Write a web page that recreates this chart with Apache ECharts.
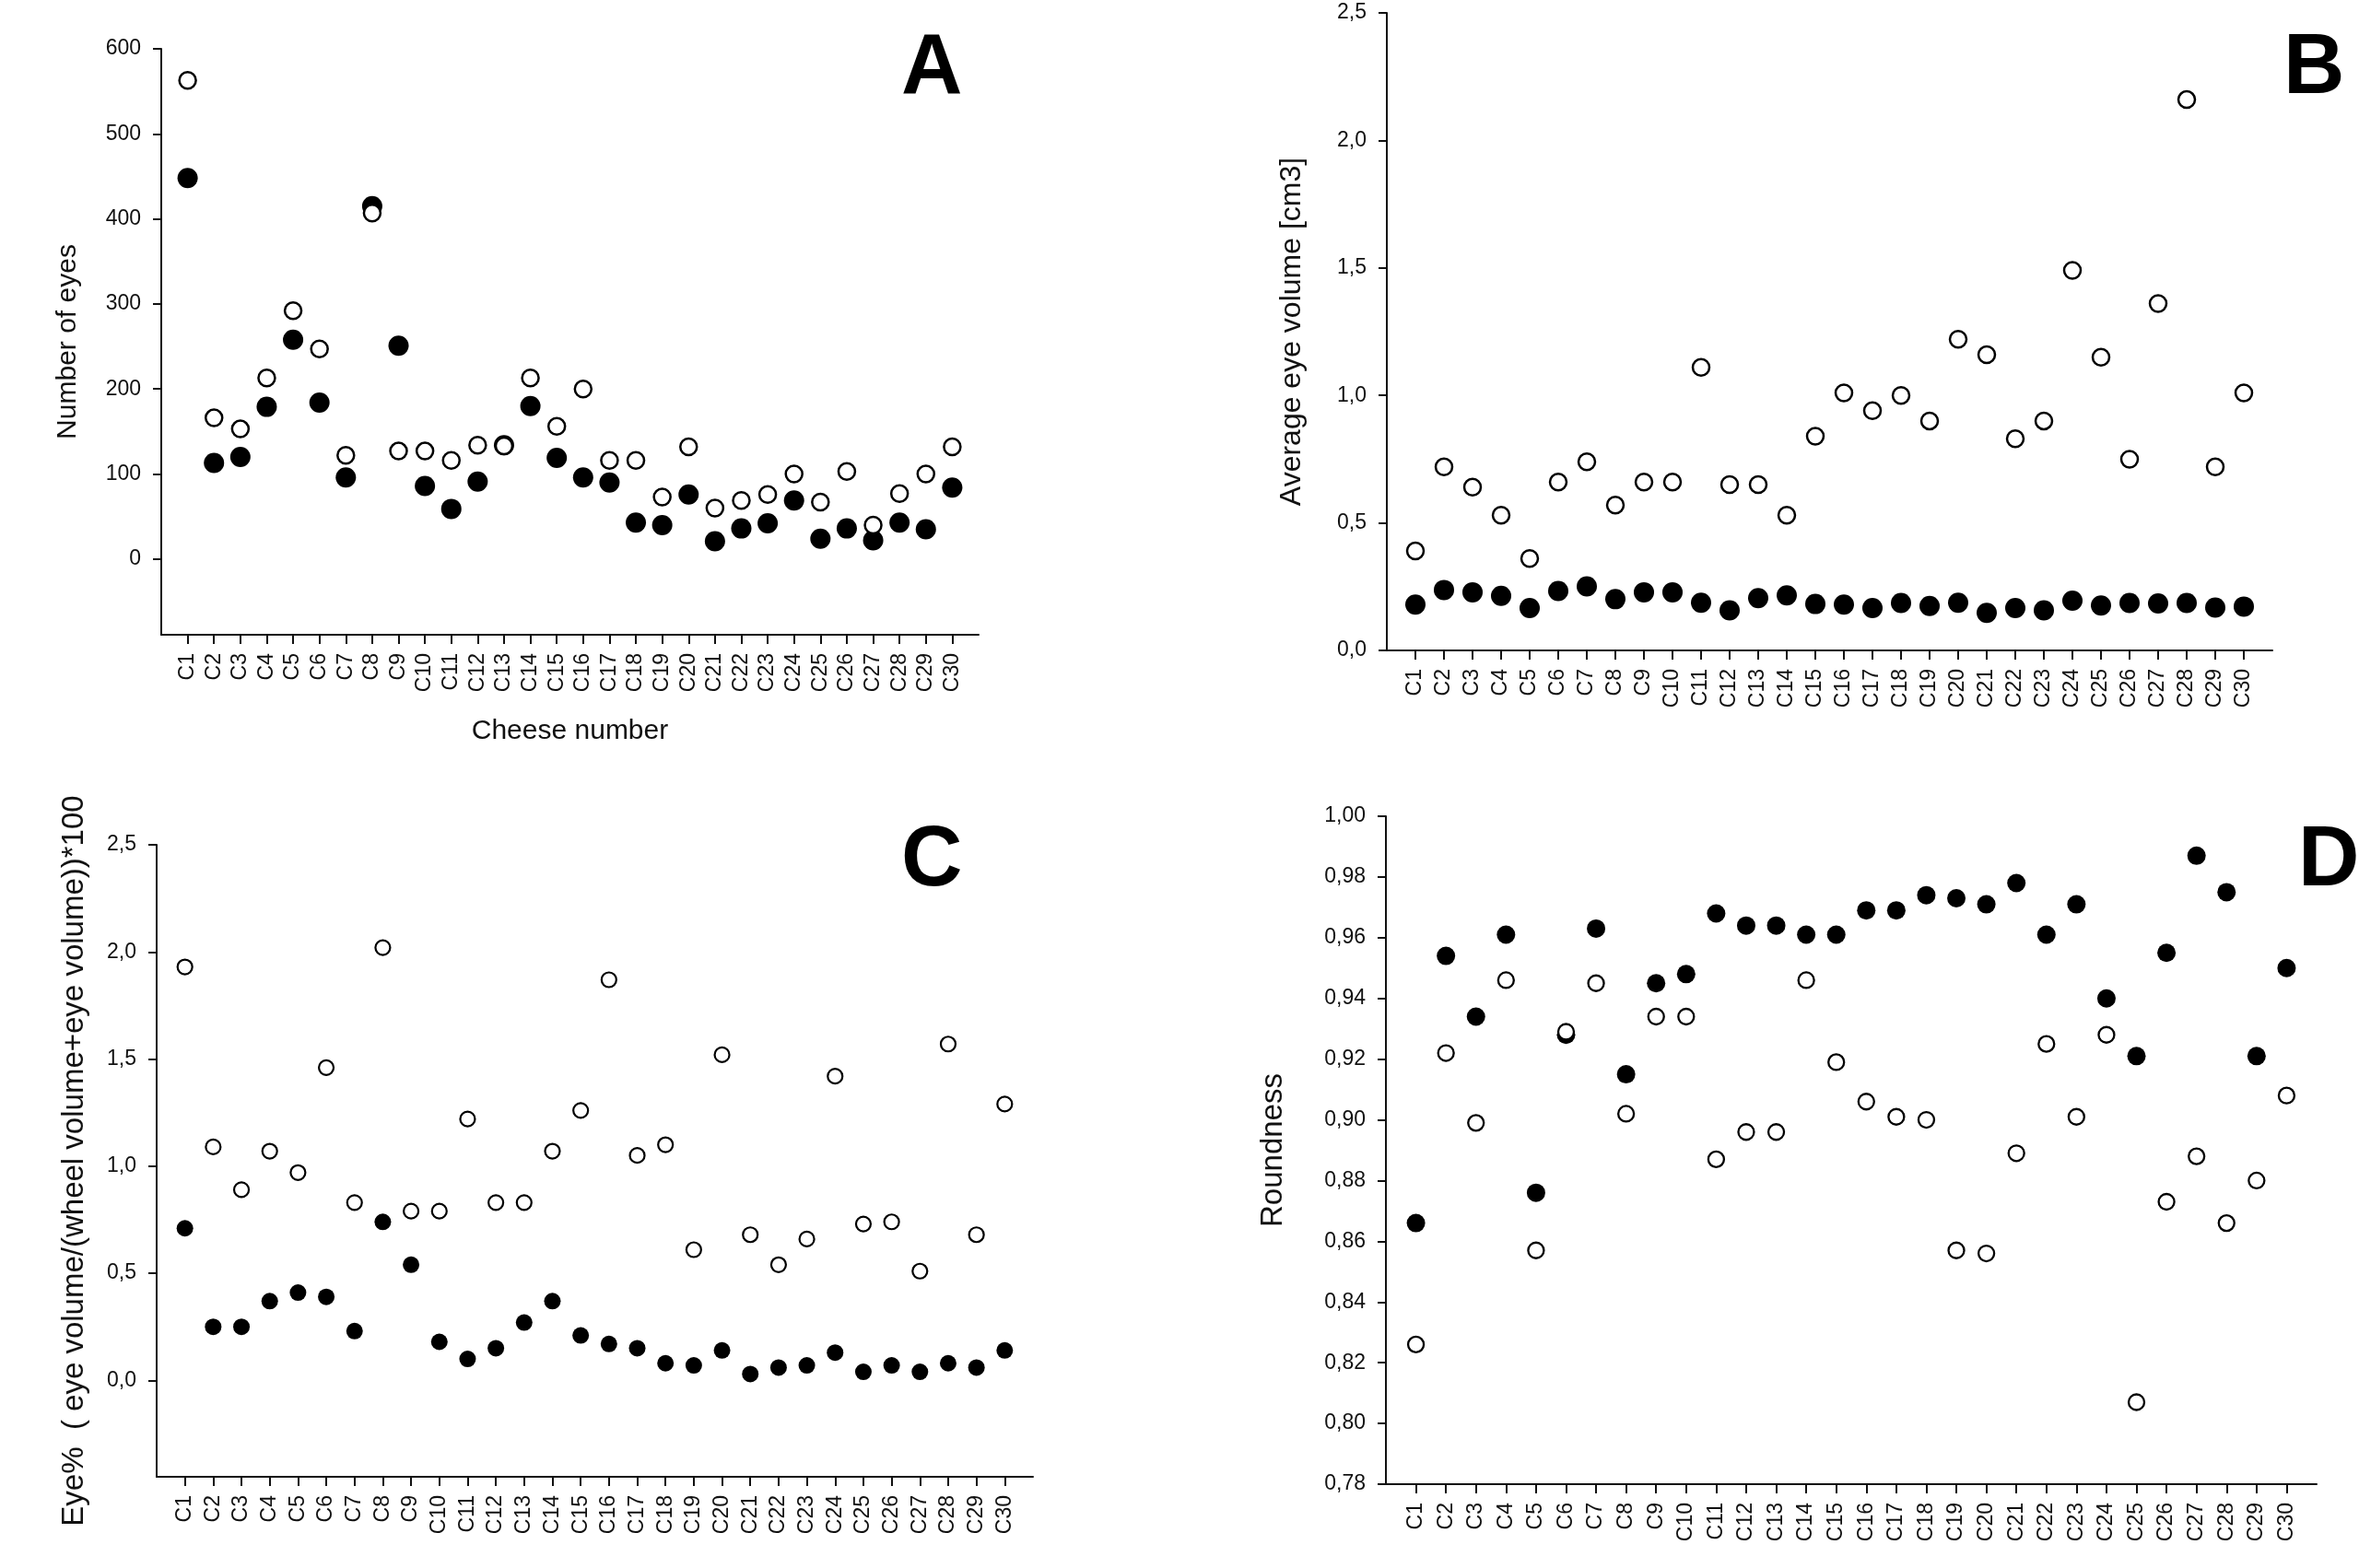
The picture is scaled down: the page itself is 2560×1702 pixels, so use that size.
<!DOCTYPE html>
<html><head><meta charset="utf-8">
<script src="https://cdn.jsdelivr.net/npm/echarts@6/dist/echarts.min.js"></script>
<style>html,body{margin:0;padding:0;background:#fff}#c{width:2560px;height:1702px}</style>
</head><body><div id="c"></div>
<script>
const cheeses = ['C1','C2','C3','C4','C5','C6','C7','C8','C9','C10','C11','C12','C13','C14','C15','C16','C17','C18','C19','C20','C21','C22','C23','C24','C25','C26','C27','C28','C29','C30'];

const aFilled = [448,113,120,179,258,184,96,415,251,86,59,91,134,180,119,96,90,43,40,76,21,36,42,69,24,36,22,43,35,84];
const aOpen   = [563,166,153,213,292,247,122,407,127,127,116,134,133,213,156,200,116,116,73,132,60,69,76,100,67,103,40,77,100,132];

const bFilled = [0.180,0.237,0.228,0.214,0.166,0.233,0.251,0.201,0.228,0.228,0.187,0.157,0.205,0.216,0.182,0.180,0.166,0.186,0.174,0.187,0.147,0.166,0.157,0.195,0.176,0.186,0.184,0.186,0.168,0.172];
const bOpen   = [0.39,0.72,0.64,0.53,0.36,0.66,0.74,0.57,0.66,0.66,1.11,0.65,0.65,0.53,0.84,1.01,0.94,1.00,0.90,1.22,1.16,0.83,0.90,1.49,1.15,0.75,1.36,2.16,0.72,1.01];

const cFilled = [0.71,0.25,0.25,0.37,0.41,0.39,0.23,0.74,0.54,0.18,0.10,0.15,0.27,0.37,0.21,0.17,0.15,0.08,0.07,0.14,0.03,0.06,0.07,0.13,0.04,0.07,0.04,0.08,0.06,0.14];
const cOpen   = [1.93,1.09,0.89,1.07,0.97,1.46,0.83,2.02,0.79,0.79,1.22,0.83,0.83,1.07,1.26,1.87,1.05,1.10,0.61,1.52,0.68,0.54,0.66,1.42,0.73,0.74,0.51,1.57,0.68,1.29];

const dFilled = [0.866,0.954,0.934,0.961,0.876,0.928,0.963,0.915,0.945,0.948,0.968,0.964,0.964,0.961,0.961,0.969,0.969,0.974,0.973,0.971,0.978,0.961,0.971,0.940,0.921,0.955,0.987,0.975,0.921,0.950];
const dOpen   = [0.826,0.922,0.899,0.946,0.857,0.929,0.945,0.902,0.934,0.934,0.887,0.896,0.896,0.946,0.919,0.906,0.901,0.900,0.857,0.856,0.889,0.925,0.901,0.928,0.807,0.873,0.888,0.866,0.880,0.908];

const aTicks = [0,100,200,300,400,500,600];
const bTicks = [0,0.5,1.0,1.5,2.0,2.5];
const cTicks = [0,0.5,1.0,1.5,2.0,2.5];
const dTicks = [0.78,0.80,0.82,0.84,0.86,0.88,0.90,0.92,0.94,0.96,0.98,1.00];
const panelLetters = ['A','B','C','D'];

const FONT = 'Liberation Sans, Arial, sans-serif';
const catPositions = cheeses.map((c,i)=>i+1);

function xAxisFor(gridIndex, name, nameGap){
  return {
    type:'value', gridIndex, min:0, max:31,
    name: name || '', nameLocation:'middle', nameGap: nameGap || 0,
    nameTextStyle:{fontFamily:FONT, fontSize:30, color:'#111'},
    axisLine:{show:true, onZero:false, lineStyle:{color:'#111', width:2}},
    axisTick:{show:true, customValues:catPositions, length:10, inside:false, lineStyle:{color:'#111', width:2}},
    axisLabel:{show:true, customValues:catPositions, rotate:90, margin:20, fontFamily:FONT, fontSize:23, color:'#111',
      formatter:v=>cheeses[Math.round(v)-1] || ''},
    splitLine:{show:false}
  };
}
function yAxisFor(gridIndex, min, max, ticks, fmt, name, nameGap, nameSize){
  return {
    type:'value', gridIndex, min, max,
    name, nameLocation:'middle', nameGap,
    nameTextStyle:{fontFamily:FONT, fontSize:nameSize, color:'#111'},
    axisLine:{show:true, onZero:false, lineStyle:{color:'#111', width:2}},
    axisTick:{show:true, customValues:ticks, length:9, inside:false, lineStyle:{color:'#111', width:2}},
    axisLabel:{show:true, customValues:ticks, margin:22, fontFamily:FONT, fontSize:23, color:'#111', formatter:fmt},
    splitLine:{show:false}
  };
}
function pts(arr){ return arr.map((v,i)=>[catPositions[i], v]); }
function filledSeries(idx, arr, size){
  return {type:'scatter', xAxisIndex:idx, yAxisIndex:idx, data:pts(arr), symbol:'circle', symbolSize:size,
    itemStyle:{color:'#000', opacity:1}, z:2, silent:true};
}
function openSeries(idx, arr, size, bw){
  return {type:'scatter', xAxisIndex:idx, yAxisIndex:idx, data:pts(arr), symbol:'circle', symbolSize:size,
    itemStyle:{color:'#fff', borderColor:'#000', borderWidth:bw, opacity:1}, z:3, silent:true};
}

const chart = echarts.init(document.getElementById('c'), null, {renderer:'canvas'});
chart.setOption({
  animation:false,
  backgroundColor:'#fff',
  grid:[
    {left:175, top:53, width:887, height:636},
    {left:1505, top:14, width:961, height:692},
    {left:170, top:917, width:951, height:686},
    {left:1504, top:886, width:1010, height:725}
  ],
  xAxis:[
    xAxisFor(0, 'Cheese number', 90),
    xAxisFor(1), xAxisFor(2), xAxisFor(3)
  ],
  yAxis:[
    yAxisFor(0, -89, 600, aTicks, v=>String(v), 'Number of eyes', 86, 30),
    yAxisFor(1, 0, 2.5, bTicks, v=>v.toFixed(1).replace('.',','), 'Average eye volume [cm3]', 87, 32),
    yAxisFor(2, -0.45, 2.5, cTicks, v=>v.toFixed(1).replace('.',','), 'Eye%  ( eye volume/(wheel volume+eye volume))*100', 73, 33),
    yAxisFor(3, 0.78, 1.0, dTicks, v=>v.toFixed(2).replace('.',','), 'Roundness', 106, 33)
  ],
  series:[
    filledSeries(0, aFilled, 22), openSeries(0, aOpen, 18, 2.5),
    filledSeries(1, bFilled, 22), openSeries(1, bOpen, 18, 2.5),
    filledSeries(2, cFilled, 18), openSeries(2, cOpen, 16, 2.2),
    filledSeries(3, dFilled, 20), openSeries(3, dOpen, 17, 2.3)
  ],
  graphic:[
    {type:'text', left:978, top:30, style:{text:panelLetters[0], font:'bold 92px '+FONT, fill:'#000'}},
    {type:'text', left:2478, top:30, style:{text:panelLetters[1], font:'bold 92px '+FONT, fill:'#000'}},
    {type:'text', left:978, top:890, style:{text:panelLetters[2], font:'bold 92px '+FONT, fill:'#000'}},
    {type:'text', left:2494, top:890, style:{text:panelLetters[3], font:'bold 92px '+FONT, fill:'#000'}}
  ]
});
</script>
</body></html>
